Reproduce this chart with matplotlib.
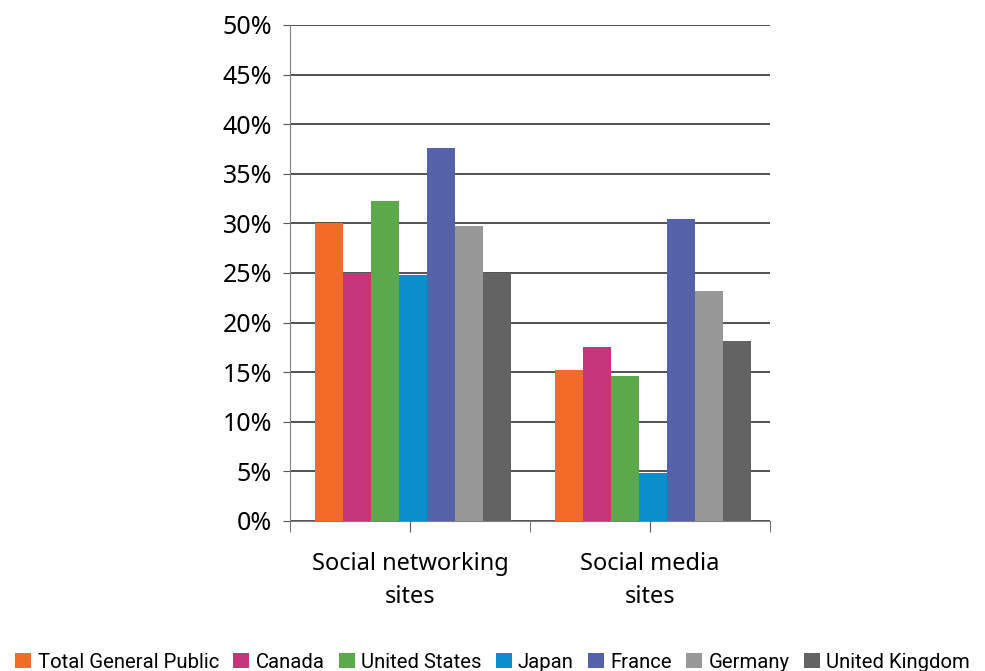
import matplotlib
matplotlib.use("Agg")
import matplotlib.pyplot as plt
import numpy as np

categories = ["Social networking\nsites", "Social media\nsites"]
series = ["Total General Public", "Canada", "United States", "Japan",
          "France", "Germany", "United Kingdom"]
values = {
    "Total General Public": [30.0, 15.2],
    "Canada": [25.0, 17.5],
    "United States": [32.3, 14.6],
    "Japan": [24.8, 4.8],
    "France": [37.6, 30.4],
    "Germany": [29.7, 23.2],
    "United Kingdom": [25.0, 18.1],
}
colors = ["#F26C27", "#C5357A", "#5BA94B", "#0A8FCB", "#5561A9", "#989898", "#636363"]

plt.rcParams['font.family'] = ['Noto Sans', 'DejaVu Sans']

fig = plt.figure(figsize=(9.85, 6.71), dpi=100)
ax = fig.add_axes([290 / 985, 1 - 521 / 671, 480 / 985, 496 / 671])

centers = np.arange(len(categories)) + 0.5
w = 28 / 240
for i, s in enumerate(series):
    ax.bar(centers + (i - 3) * w + 0.014, values[s], width=w, color=colors[i],
           label=s, zorder=3)

ax.set_xlim(0, 2)
ax.set_ylim(0, 50)
ax.set_yticks(np.arange(0, 51, 5))
ax.set_yticklabels([f"{v}%" for v in range(0, 51, 5)], fontsize=18)
ax.yaxis.grid(True, color="#222222", linewidth=1.1, zorder=0)
ax.set_xticks(centers)
ax.set_xticklabels(categories, fontsize=17, linespacing=1.5)
ax.set_xticks([0, 1, 2], minor=True)
ax.tick_params(axis="x", which="both", length=8, direction="out", color="#555555")
ax.tick_params(axis="x", which="major", pad=14)
ax.tick_params(axis="y", length=5, color="#555555", pad=8)
for side in ["top", "right"]:
    ax.spines[side].set_visible(False)
ax.spines["left"].set_color("#808080")
ax.spines["bottom"].set_color("#808080")

fig.legend(loc="lower center", bbox_to_anchor=(0.5, -0.028), ncol=7, frameon=False,
           handlelength=0.8, handleheight=0.8, handletextpad=0.3, columnspacing=0.7,
           prop={"family": ["Roboto", "DejaVu Sans"], "size": 14.6})

fig.savefig("out.png", dpi=100)
